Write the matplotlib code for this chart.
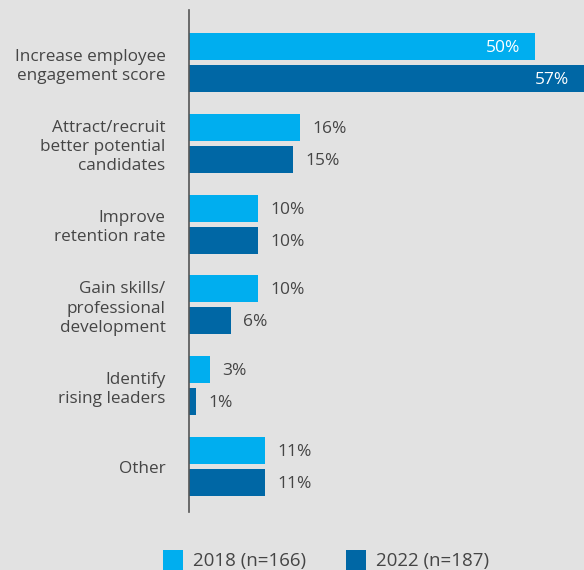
import matplotlib.pyplot as plt
import numpy as np

plt.rcParams['font.family'] = ['Open Sans', 'DejaVu Sans']

# data
categories = ['Increase employee\nengagement score',
              'Attract/recruit\nbetter potential\ncandidates',
              'Improve\nretention rate',
              'Gain skills/\nprofessional\ndevelopment',
              'Identify\nrising leaders',
              'Other']
vals_2018 = [50, 16, 10, 10, 3, 11]
vals_2022 = [57, 15, 10, 6, 1, 11]
series_names = ['2018 (n=166)', '2022 (n=187)']

bg = '#e2e2e2'
c18 = '#00aeef'
c22 = '#0067a5'
txt = '#454545'

fig = plt.figure(figsize=(5.84, 5.70), dpi=100, facecolor=bg)
ax = fig.add_axes([189/584, 58/570, 395/584, 502/570])
ax.set_facecolor(bg)

y = np.arange(len(categories))
off = 0.198
h = 0.334
b1 = ax.barh(y - off, vals_2018, height=h, color=c18, label=series_names[0])
b2 = ax.barh(y + off, vals_2022, height=h, color=c22, label=series_names[1])

ax.set_xlim(0, 57)
ax.set_ylim(5.563, -0.65)

for bars, vals in ((b1, vals_2018), (b2, vals_2022)):
    for rect, v in zip(bars, vals):
        yc = rect.get_y() + rect.get_height()/2
        if v >= 40:
            ax.annotate('{}%'.format(v), (v, yc), xytext=(-11, -1), textcoords='offset points',
                        ha='right', va='center', color='white', fontsize=12.5)
        else:
            ax.annotate('{}%'.format(v), (v, yc), xytext=(9, -1), textcoords='offset points',
                        ha='left', va='center', color=txt, fontsize=12.5)

ax.set_yticks(y)
ax.set_yticklabels(categories, fontsize=12.3, color=txt, linespacing=1.27)
ax.tick_params(axis='y', length=0, pad=17)
ax.set_xticks([])
for s in ['top', 'right', 'bottom']:
    ax.spines[s].set_visible(False)
ax.spines['left'].set_color('#555555')
ax.spines['left'].set_linewidth(1.2)

fig.legend(handles=[b1, b2], labels=series_names, loc='lower left',
           bbox_to_anchor=(146/584, -17/570), ncol=2, frameon=False,
           handlelength=1.05, handleheight=1.3,
           columnspacing=2.15, handletextpad=0.55, labelcolor=txt,
           prop={'size': 13.5})

plt.savefig('out.png', dpi=100, facecolor=bg)
